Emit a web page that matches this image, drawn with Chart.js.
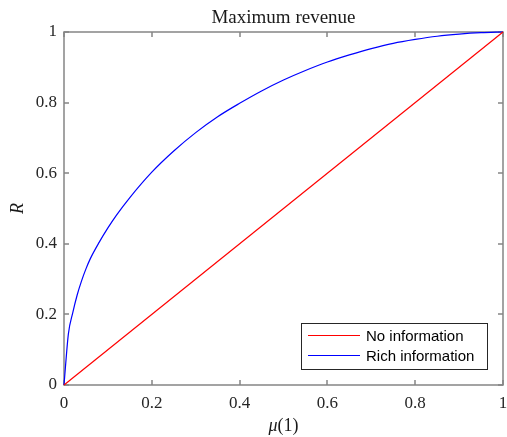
<!DOCTYPE html>
<html>
<head>
<meta charset="utf-8">
<script src="https://cdn.jsdelivr.net/npm/chart.js@4/dist/chart.umd.min.js"></script>
<style>
    body { margin: 0; background: #fff; }
    #wrap { width: 507px; height: 437px; }
</style>
</head>
<body>
<div id="wrap"><canvas id="myChart" width="507" height="437"></canvas></div>
<script>
// data
var muValues = [0, 0.01, 0.02, 0.03, 0.04, 0.05, 0.06, 0.08, 0.1, 0.12, 0.15, 0.2, 0.25, 0.3, 0.35, 0.4,
    0.45, 0.5, 0.55, 0.6, 0.65, 0.7, 0.75, 0.8, 0.85, 0.9, 0.95, 1];
var richRevenue = [0, 0.145, 0.205, 0.255, 0.295, 0.329, 0.358, 0.404, 0.445, 0.482, 0.531, 0.603, 0.663, 0.715, 0.76, 0.798,
    0.833, 0.864, 0.891, 0.915, 0.935, 0.953, 0.968, 0.979, 0.988, 0.994, 0.998, 1];
var noInfoMu = [0, 1];
var noInfoRevenue = [0, 1];
var tickValues = [0, 0.2, 0.4, 0.6, 0.8, 1];

var titleText = 'Maximum revenue';
var seriesNames = ['No information', 'Rich information'];

var axisGray = '#858585';
var serif = '"Liberation Serif", "Times New Roman", serif';

function toPoints(xs, ys) {
    var pts = [];
    for (var i = 0; i < xs.length; i++) {
        pts.push({ x: xs[i], y: ys[i] });
    }
    return pts;
}

// box, inward ticks, titles, legend
var matlabLook = {
    id: 'matlabLook',
    beforeDatasetsDraw: function (chart) {
        var ctx = chart.ctx;
        var a = chart.chartArea;
        ctx.save();
        ctx.strokeStyle = axisGray;
        ctx.lineWidth = 1.5;
        ctx.strokeRect(a.left, a.top, a.right - a.left, a.bottom - a.top);
        ctx.beginPath();
        tickValues.forEach(function (v) {
            var px = Math.round(chart.scales.x.getPixelForValue(v));
            ctx.moveTo(px, a.bottom); ctx.lineTo(px, a.bottom - 5);
            ctx.moveTo(px, a.top); ctx.lineTo(px, a.top + 5);
            var py = Math.round(chart.scales.y.getPixelForValue(v));
            ctx.moveTo(a.left, py); ctx.lineTo(a.left + 5, py);
            ctx.moveTo(a.right, py); ctx.lineTo(a.right - 5, py);
        });
        ctx.stroke();
        ctx.restore();
    },
    afterDatasetsDraw: function (chart) {
        var ctx = chart.ctx;
        var a = chart.chartArea;
        var cx = (a.left + a.right) / 2;
        ctx.save();
        ctx.fillStyle = '#1a1a1a';

        // title
        ctx.font = '19px ' + serif;
        ctx.textAlign = 'center';
        ctx.textBaseline = 'alphabetic';
        ctx.fillText(titleText, cx, 23);

        // x label: italic mu + upright (1)
        var muPart = '\u03bc', rest = '(1)';
        ctx.font = 'italic 18px ' + serif;
        var w1 = ctx.measureText(muPart).width;
        ctx.font = '18px ' + serif;
        var w2 = ctx.measureText(rest).width;
        var x0 = cx - (w1 + w2) / 2;
        ctx.textAlign = 'left';
        ctx.font = 'italic 18px ' + serif;
        ctx.fillText(muPart, x0, 431);
        ctx.font = '18px ' + serif;
        ctx.fillText(rest, x0 + w1, 431);

        // y label
        ctx.save();
        ctx.translate(18, (a.top + a.bottom) / 2);
        ctx.rotate(-Math.PI / 2);
        ctx.textAlign = 'center';
        ctx.textBaseline = 'middle';
        ctx.font = 'italic 18px ' + serif;
        ctx.fillText('R', 0, 0);
        ctx.restore();

        // legend
        var bx = a.right - 202, by = a.bottom - 62, bw = 186, bh = 46;
        ctx.fillStyle = '#fff';
        ctx.fillRect(bx, by, bw, bh);
        ctx.strokeStyle = '#262626';
        ctx.lineWidth = 1;
        ctx.strokeRect(bx + 0.5, by + 0.5, bw, bh);
        ctx.font = '15px "Liberation Sans", Arial, sans-serif';
        ctx.textAlign = 'left';
        ctx.textBaseline = 'middle';
        chart.data.datasets.forEach(function (ds, i) {
            var ly = by + 12.5 + i * 20;
            ctx.strokeStyle = ds.borderColor;
            ctx.lineWidth = 1.2;
            ctx.beginPath();
            ctx.moveTo(bx + 7, ly);
            ctx.lineTo(bx + 59, ly);
            ctx.stroke();
            ctx.fillStyle = '#000';
            ctx.fillText(ds.label, bx + 65, ly + 1);
        });
        ctx.restore();
    }
};

function tickLabel(value) {
    return String(Math.round(value * 10) / 10);
}

var ctx = document.getElementById('myChart').getContext('2d');
var myChart = new Chart(ctx, {
    type: 'line',
    data: {
        datasets: [{
            label: seriesNames[0],
            data: toPoints(noInfoMu, noInfoRevenue),
            borderColor: '#ff0000',
            borderWidth: 1.2,
            pointRadius: 0,
            clip: 3
        }, {
            label: seriesNames[1],
            data: toPoints(muValues, richRevenue),
            borderColor: '#0000ff',
            borderWidth: 1.2,
            pointRadius: 0,
            cubicInterpolationMode: 'monotone',
            clip: 3
        }]
    },
    options: {
        responsive: false,
        animation: false,
        layout: { padding: { left: 0, right: 4, top: 32, bottom: 0 } },
        plugins: {
            legend: { display: false },
            tooltip: { enabled: false },
            title: { display: false }
        },
        scales: {
            x: {
                type: 'linear',
                min: 0,
                max: 1,
                afterFit: function (s) {
                    s.height = 52;
                    s.paddingLeft = 0;
                    s.paddingRight = 0;
                },
                afterBuildTicks: function (s) {
                    s.ticks = tickValues.map(function (v) { return { value: v }; });
                },
                grid: { display: false, drawTicks: false },
                border: { display: false },
                ticks: {
                    padding: 8,
                    color: '#262626',
                    font: { family: serif, size: 17 },
                    maxRotation: 0,
                    autoSkip: false,
                    callback: tickLabel
                }
            },
            y: {
                type: 'linear',
                min: 0,
                max: 1,
                afterFit: function (s) {
                    s.width = 64;
                    s.paddingTop = 0;
                    s.paddingBottom = 0;
                },
                afterBuildTicks: function (s) {
                    s.ticks = tickValues.map(function (v) { return { value: v }; });
                },
                grid: { display: false, drawTicks: false },
                border: { display: false },
                ticks: {
                    padding: 7,
                    color: '#262626',
                    font: { family: serif, size: 17 },
                    autoSkip: false,
                    callback: tickLabel
                }
            }
        }
    },
    plugins: [matlabLook]
});
</script>
</body>
</html>
